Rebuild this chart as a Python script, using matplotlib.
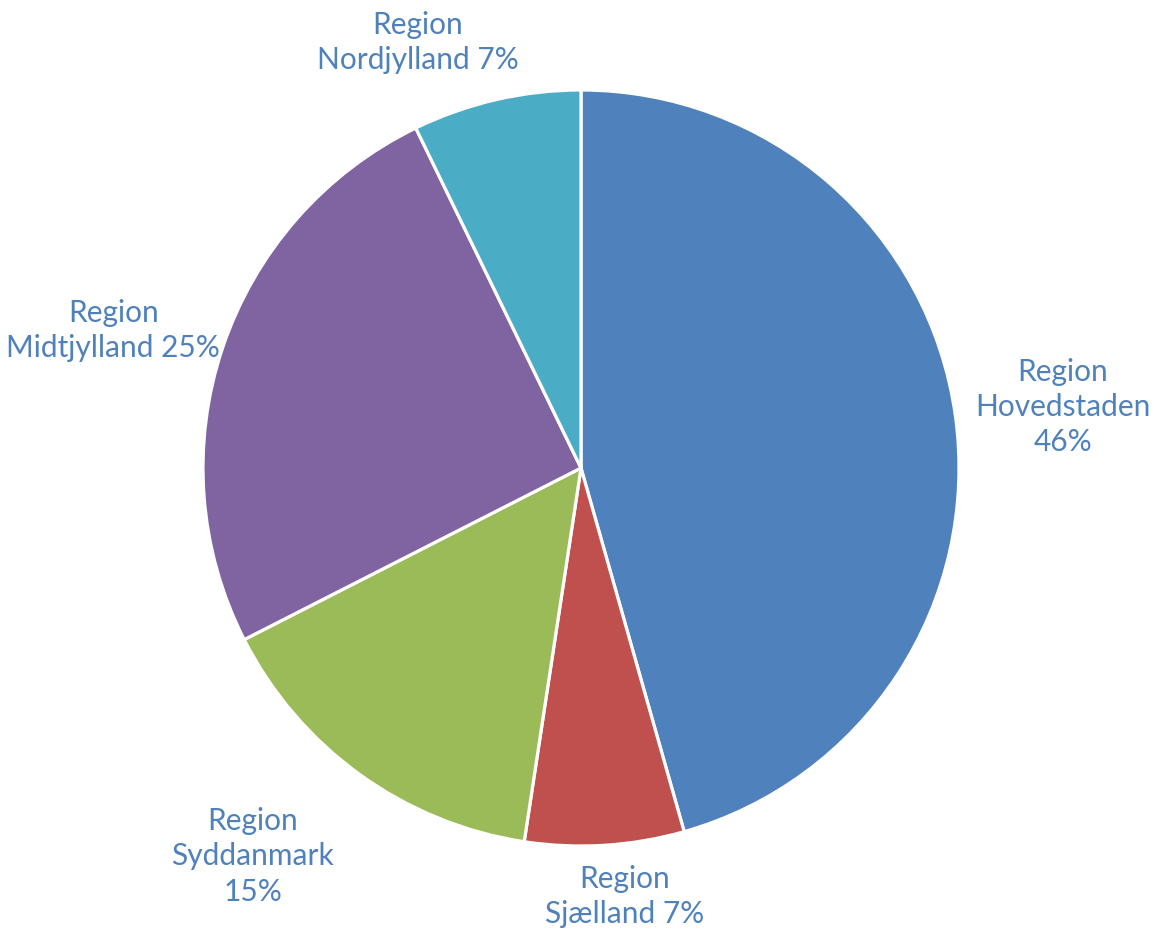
import matplotlib.pyplot as plt
import numpy as np

# andel pr. region
regions = ["Region\nHovedstaden", "Region\nSjælland", "Region\nSyddanmark",
           "Region\nMidtjylland", "Region\nNordjylland"]
shares = [45.6, 6.8, 15.1, 25.3, 7.2]
colors = ["#4F81BD", "#C0504D", "#9BBB59", "#8064A2", "#4BACC6"]
# label break: newline or space before percentage
sep = ["\n", " ", "\n", " ", " "]

# label placement (angle in degrees from center, radius factor)
label_pos = [(7.2, 1.285), (-84.2, 1.14), (-130.2, 1.345), (163.6, 1.29), (111.0, 1.205)]

W, H = 1154, 930
cx, cy, r = 581, 468, 378

fig = plt.figure(figsize=(W / 100, H / 100), dpi=100)
ax = fig.add_axes([0, 0, 1, 1])

wedges, _ = ax.pie(shares, colors=colors, startangle=90, counterclock=False,
                   radius=1, wedgeprops=dict(edgecolor="white", linewidth=2.3))

total = sum(shares)
for name, val, s, (ang, d) in zip(regions, shares, sep, label_pos):
    pct = round(val / total * 100)
    x = d * np.cos(np.radians(ang))
    y = d * np.sin(np.radians(ang))
    ax.text(x, y, f"{name}{s}{pct}%", ha="center", va="center",
            multialignment="center", fontsize=21.5, color="#4F81BD",
            family=["Lato", "DejaVu Sans"], linespacing=1.32)

ax.set_xlim(-cx / r, (W - cx) / r)
ax.set_ylim(-(H - cy) / r, cy / r)
ax.set_aspect("equal")
ax.axis("off")

fig.savefig("out.png", dpi=100)
